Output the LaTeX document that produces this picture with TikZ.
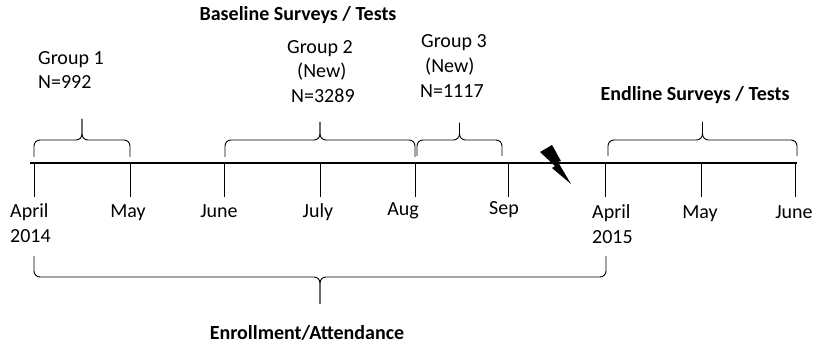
\documentclass[tikz,border=0pt]{standalone}
\usepackage{fontspec}
\setmainfont{Carlito}
\begin{document}
\begin{tikzpicture}[x=1pt,y=-1pt,
  lbl/.style={inner sep=0pt,anchor=base,font=\fontsize{20}{25}\selectfont},
  lblw/.style={lbl,anchor=base west},
  blbl/.style={inner sep=0pt,anchor=base,font=\fontsize{20}{25}\selectfont\bfseries},
  tick/.style={line width=0.9pt},
  brc/.style={line width=0.9pt,rounded corners=6pt},
  axis/.style={line width=2.4pt}]
\useasboundingbox (0,0) rectangle (814,344);
% axis
\coordinate (L) at (30,163);
\coordinate (R) at (797,163);
\draw[axis] (L) -- (R);
% ticks
\foreach \n/\x in {a14/34,may/130,jun/224,jul/320,aug/415,sep/508,a15/605,may2/701,jun2/795}{
  \coordinate (\n t) at (\x,163);
  \coordinate (\n b) at (\x,197);
  \draw[tick] (\n t) -- (\n b);
}
% month labels
\node[lblw] (lA14a) at (10,218) {April};
\node[lblw] (lA14b) at (10,243) {2014};
\node[lbl] (lMay) at (128,218) {May};
\node[lbl] (lJun) at (219,218) {June};
\node[lbl] (lJul) at (318,218) {July};
\node[lbl] (lAug) at (403,216) {Aug};
\node[lbl] (lSep) at (504,215) {Sep};
\node[lblw] (lA15a) at (592,219) {April};
\node[lblw] (lA15b) at (592,244) {2015};
\node[lbl] (lMay2) at (700,219) {May};
\node[lbl] (lJun2) at (794,219) {June};
% braces
\newcommand{\tlbrace}[5]{%
  \draw[brc] (#1,#3) -- (#1,#4) -- ({(#1+#2)/2},#4) -- ({(#1+#2)/2},#5);
  \draw[brc] (#2,#3) -- (#2,#4) -- ({(#1+#2)/2},#4) -- ({(#1+#2)/2},#5);}
\tlbrace{34}{130}{157}{140}{119}
\tlbrace{225}{415}{157}{140}{122}
\tlbrace{417}{502}{156}{140}{123}
\tlbrace{608}{797}{156}{140}{122}
\tlbrace{34}{606}{256}{277}{304}
% group texts
\node[lblw] (g1a) at (38,65) {Group 1};
\node[lblw] (g1b) at (38,89) {N=992};
\node[lblw] (g2a) at (287,54) {Group 2};
\node[lblw] (g2b) at (297,78) {(New)};
\node[lblw] (g2c) at (291,103) {N=3289};
\node[lblw] (g3a) at (421,48) {Group 3};
\node[lblw] (g3b) at (425,73) {(New)};
\node[lblw] (g3c) at (420,98) {N=1117};
\node[blbl] (base) at (298,21) {Baseline Surveys / Tests};
\node[blbl] (endl) at (695,101) {Endline Surveys / Tests};
\node[blbl] (enr) at (307,340) {Enrollment/Attendance};
% lightning bolt
\fill (540,152) -- (552,145) -- (561,161) -- (558,162) -- (571,184) -- (552,168) -- (555,166) -- cycle;
\end{tikzpicture}
\end{document}
